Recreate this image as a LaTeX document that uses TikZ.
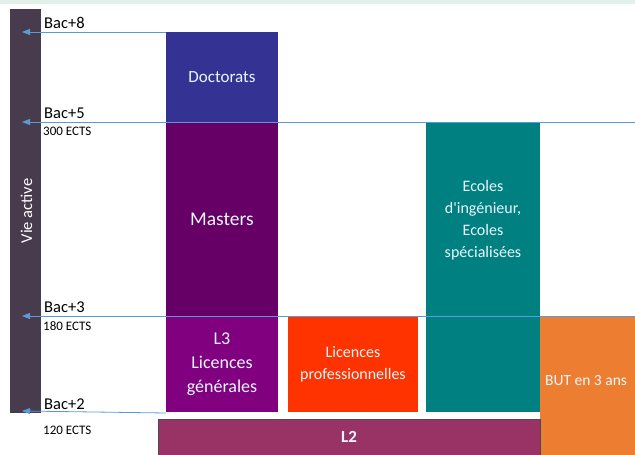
\documentclass[tikz,border=0pt]{standalone}
\usepackage{fontspec}
\setmainfont{Carlito}
\usetikzlibrary{arrows.meta,positioning}
\definecolor{topband}{HTML}{E2F0EA}
\definecolor{vieactive}{HTML}{483B4D}
\definecolor{doctorat}{HTML}{343394}
\definecolor{master}{HTML}{660066}
\definecolor{licence}{HTML}{800080}
\definecolor{licpro}{HTML}{FF3300}
\definecolor{ecole}{HTML}{008080}
\definecolor{but}{HTML}{ED7D31}
\definecolor{ldeux}{HTML}{993366}
\definecolor{bacblue}{HTML}{5B9BD5}

\begin{document}
\begin{tikzpicture}[x=1pt,y=-1pt,
                block/.style={
                  inner sep=0pt, outer sep=0pt, anchor=north west,
                  text=white!92!cyan, align=center,
                  font=\fontsize{16}{20}\selectfont
                },
                boxtext/.style={text=white!92!cyan, align=center, inner sep=0pt},
                level/.style={
                  draw=bacblue, line width=0.8pt,
                  -{Triangle[length=8pt,width=6pt]}
                },
                baclabel/.style={anchor=south west, inner sep=1pt, font=\fontsize{16.5}{18}\selectfont},
                ects/.style={anchor=north west, inner sep=1pt, font=\fontsize{13}{15}\selectfont}
                ]
  \useasboundingbox (0,0) rectangle (635,455);
  \fill[topband] (0,0) rectangle (635,4);
  % left bar
  \node[block, fill=vieactive, minimum width=31pt, minimum height=404pt] (vie) at (10,9) {};
  \node[rotate=90, text=white, font=\fontsize{16.5}{18}\selectfont] at ([xshift=1pt]vie.center) {Vie active};
  % boxes
  \node[block, fill=doctorat, minimum width=112pt, minimum height=90pt, font=\fontsize{17}{20}\selectfont] (doct) at (166,32) {Doctorats};
  \node[block, fill=master, minimum width=112pt, minimum height=194pt, font=\fontsize{19.5}{22}\selectfont] (mast) at (166,122) {Masters};
  \node[block, fill=licence, minimum width=112pt, minimum height=96pt, font=\fontsize{18}{24}\selectfont] (lgen) at (166,316) {L3\\Licences\\générales};
  \node[block, fill=licpro, minimum width=130pt, minimum height=95pt, font=\fontsize{16}{22}\selectfont] (lpro) at (288,317) {Licences\\professionnelles};
  \node[block, fill=ecole, minimum width=114pt, minimum height=290pt] (ecol) at (426,122) {};
  \node[boxtext, font=\fontsize{16}{22}\selectfont] at (483,220) {Ecoles\\d\textquotesingle ingénieur,\\Ecoles\\spécialisées};
  \node[block, fill=but, minimum width=95pt, minimum height=139pt] (but) at (540,316) {};
  \node[block, fill=ldeux, draw=black!70, line width=0.6pt, minimum width=382pt, minimum height=36pt, font=\bfseries\fontsize{17}{20}\selectfont] (ldeux) at (158,419) {L2};
  \node[boxtext, font=\fontsize{15.5}{18}\selectfont, anchor=west] at ([xshift=5pt,yshift=5pt]but.west) {BUT en 3 ans};
  % levels
  \coordinate (b8) at (22,32);
  \coordinate (b5) at (22,122);
  \coordinate (b3) at (22,316);
  \coordinate (b2) at (22,411);
  \coordinate (r5) at (635,122);
  \coordinate (r3) at (635,316);
  \draw[level] (doct.north west) -- (b8);
  \draw[level] (r5) -- (b5);
  \draw[level] (r3) -- (b3);
  \draw[level] ([yshift=-1pt]lgen.south west) -- (b2);
  % labels
  \node[baclabel] (t8) at (43,30) {Bac+8};
  \node[baclabel] (t5) at (43,120) {Bac+5};
  \node[ects] (e5) at (42,126) {300 ECTS};
  \node[baclabel] (t3) at (43,314) {Bac+3};
  \node[ects] (e3) at (42,320) {180 ECTS};
  \node[baclabel] (t2) at (43,411) {Bac+2};
  \node[ects] (e2) at (42,425) {120 ECTS};
\end{tikzpicture}
\end{document}
